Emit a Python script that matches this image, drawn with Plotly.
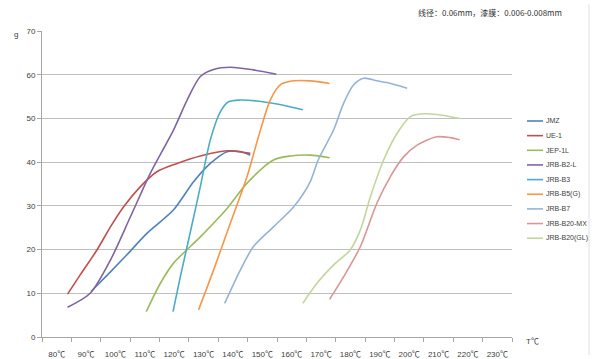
import plotly.graph_objects as go

# ---- data (x in ℃, y in g) ----
names = ["JMZ", "UE-1", "JEP-1L", "JRB-B2-L", "JRB-B3", "JRB-B5(G)", "JRB-B7", "JRB-B20-MX", "JRB-B20(GL)"]
colors = ["#4F81BD", "#C0504D", "#9BBB59", "#8064A2", "#4BACC6", "#F79646", "#95B3D7", "#D99694", "#C3D69B"]

jmz_x = [91.7, 98.3, 103.9, 110.7, 119.8, 126.6, 132.3, 138.0, 142.5, 145.9]
jmz_y = [10.4, 14.9, 18.8, 23.7, 29.1, 35.5, 39.7, 42.4, 42.4, 41.6]

ue1_x = [83.7, 88.0, 93.7, 98.3, 102.8, 108.5, 114.1, 121.0, 128.9, 138.0, 145.9]
ue1_y = [9.8, 14.2, 19.9, 25.2, 29.8, 34.4, 37.8, 39.7, 41.4, 42.6, 42.0]

jep_x = [110.5, 115.3, 119.8, 128.9, 138.0, 144.8, 153.8, 159.5, 166.3, 172.9]
jep_y = [5.8, 12.3, 16.9, 22.9, 29.4, 35.2, 40.5, 41.4, 41.6, 41.0]

b2l_x = [83.7, 91.4, 98.3, 105.1, 111.9, 119.8, 124.4, 128.9, 133.4, 139.1, 147.0, 154.8]
b2l_y = [6.8, 10.0, 17.6, 27.5, 37.5, 47.4, 54.2, 59.6, 61.2, 61.7, 61.1, 60.1]

b3_x = [119.6, 122.1, 124.9, 128.9, 132.3, 135.7, 138.5, 142.5, 148.2, 155.0, 163.8]
b3_y = [5.8, 13.8, 22.2, 34.4, 45.1, 51.5, 53.8, 54.2, 54.0, 53.3, 52.0]

b5_x = [128.3, 133.4, 139.1, 144.8, 148.7, 152.7, 156.1, 160.7, 166.3, 172.9]
b5_y = [6.2, 15.3, 26.0, 36.7, 45.8, 54.2, 57.7, 58.6, 58.6, 58.0]

b7_x = [137.2, 142.5, 147.0, 153.8, 160.7, 166.3, 169.0, 174.3, 177.7, 181.1, 184.5, 189.0, 192.4, 199.3]
b7_y = [7.7, 15.3, 20.7, 25.2, 29.8, 35.5, 40.5, 47.4, 53.5, 57.7, 59.2, 58.6, 58.2, 56.9]

b20mx_x = [172.9, 177.7, 183.4, 189.0, 193.6, 198.1, 202.7, 209.4, 214.0, 217.2]
b20mx_y = [8.6, 13.8, 20.7, 30.6, 36.7, 41.2, 43.9, 45.8, 45.6, 45.1]

b20gl_x = [163.8, 168.6, 174.3, 179.9, 183.4, 186.8, 191.3, 195.9, 200.4, 203.8, 209.4, 217.2]
b20gl_y = [7.7, 12.3, 16.5, 19.9, 24.5, 32.1, 40.5, 46.6, 50.4, 51.0, 50.9, 50.0]

xs = [jmz_x, ue1_x, jep_x, b2l_x, b3_x, b5_x, b7_x, b20mx_x, b20gl_x]
ys = [jmz_y, ue1_y, jep_y, b2l_y, b3_y, b5_y, b7_y, b20mx_y, b20gl_y]

x_ticks = list(range(80, 240, 10))
x_labels = [f"{t}℃" for t in x_ticks]
y_ticks = list(range(0, 80, 10))

title_text = "线径：0.06mm，漆膜：0.006-0.008mm"

fig = go.Figure()
for n, c, x, y in zip(names, colors, xs, ys):
    fig.add_trace(go.Scatter(x=x, y=y, name=n, mode="lines",
                             line=dict(color=c, width=1.6, shape="spline", smoothing=0.8),
                             showlegend=False))

FONT = "Liberation Sans, Arial, Noto Sans CJK SC, sans-serif"
L, R, T, B = 42, 80, 31, 22
W, H = 592, 359
pw, ph = W - L - R, H - T - B

def px2x(px):
    return (px - L) / pw

def py2y(py):
    return (H - B - py) / ph

fig.update_layout(
    width=W, height=H,
    margin=dict(l=L, r=R, t=T, b=B, autoexpand=False),
    paper_bgcolor="white", plot_bgcolor="white",
    font=dict(family=FONT, size=8, color="#404040"),
    xaxis=dict(range=[75, 235], tickvals=x_ticks, ticktext=x_labels, ticks="", automargin=False,
               showgrid=False, zeroline=False, showline=True, linecolor="#A6A6A6", linewidth=1,
               tickfont=dict(size=8, color="#404040"), ticklabelstandoff=9,
               minor=dict(tick0=75, dtick=10, ticks="outside", ticklen=4, tickcolor="#A6A6A6", showgrid=False)),
    yaxis=dict(range=[0, 70], tickvals=y_ticks, ticks="outside", ticklen=4, tickcolor="#A6A6A6",
               automargin=False,
               showgrid=True, gridcolor="#BFBFBF", gridwidth=1.2, zeroline=False,
               showline=True, linecolor="#A6A6A6", linewidth=1,
               tickfont=dict(size=8, color="#404040")),
)

annotations = [
    dict(text="g", x=px2x(16), y=py2y(35), xref="paper", yref="paper", showarrow=False,
         font=dict(size=8, color="#404040"), xanchor="center", yanchor="middle"),
    dict(text="T℃", x=px2x(524), y=py2y(341), xref="paper", yref="paper", showarrow=False,
         font=dict(size=8, color="#404040"), xanchor="left", yanchor="middle"),
    dict(text=title_text, x=px2x(416), y=py2y(13), xref="paper", yref="paper", showarrow=False,
         font=dict(size=8, color="#333333", family="Noto Sans CJK SC, sans-serif"), xanchor="left", yanchor="middle"),
]
shapes = []
for i, (n, c) in enumerate(zip(names, colors)):
    yy = py2y(121 + 14.65 * i)
    shapes.append(dict(type="line", xref="paper", yref="paper", x0=px2x(527), x1=px2x(543), y0=yy, y1=yy,
                       line=dict(color=c, width=1.6)))
    annotations.append(dict(text=n, x=px2x(544), y=yy, xref="paper", yref="paper", showarrow=False,
                            xanchor="left", yanchor="middle", font=dict(size=7, color="#404040")))

shapes.append(dict(type="line", xref="paper", yref="paper", x0=px2x(589), x1=px2x(589), y0=py2y(4), y1=py2y(355),
                   line=dict(color="#E0E0E0", width=1)))

fig.update_layout(annotations=annotations, shapes=shapes)
fig.write_html("out.html", config={"displayModeBar": False},
               post_script="document.body.style.margin='0';document.body.style.overflow='hidden';")
